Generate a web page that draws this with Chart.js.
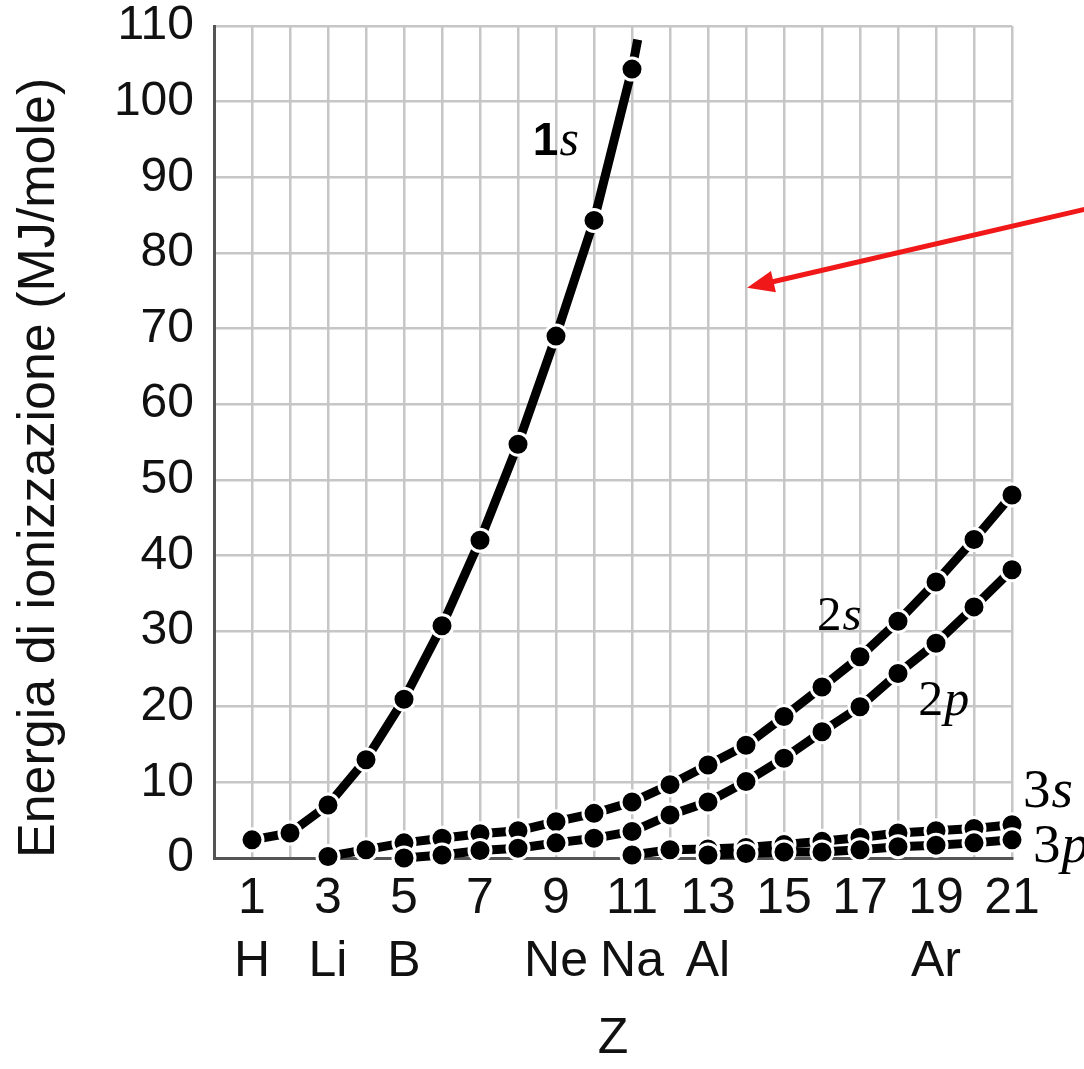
<!DOCTYPE html>
<html>
<head>
<meta charset="utf-8">
<script src="https://cdn.jsdelivr.net/npm/chart.js@4.4.0/dist/chart.umd.min.js"></script>
<style>
  html, body { margin: 0; padding: 0; background: #fff; }
  #wrap { width: 1084px; height: 1069px; position: relative; }
</style>
</head>
<body>
<div id="wrap"><canvas id="chart"></canvas></div>
<script>
/* ---- Data (MJ/mole) ------------------------------------------------------ */

const z1s = [1, 2, 3, 4, 5, 6, 7, 8, 9, 10, 11];
const e1s = [2.4, 3.3, 7.0, 13.0, 21.0, 30.7, 42.0, 54.7, 69.0, 84.3, 104.3];
// the 1s curve keeps going past Na up to the top of the grid
const z1sTail = 11.15;
const e1sTail = 108.2;

const z2s = [3, 4, 5, 6, 7, 8, 9, 10, 11, 12, 13, 14, 15, 16, 17, 18, 19, 20, 21];
const e2s = [0.2, 1.1, 2.0, 2.6, 3.2, 3.6, 4.8, 5.9, 7.4, 9.7, 12.3, 14.9, 18.7, 22.6, 26.6, 31.3, 36.5, 42.1, 48.0];

const z2p = [5, 6, 7, 8, 9, 10, 11, 12, 13, 14, 15, 16, 17, 18, 19, 20, 21];
const e2p = [0.0, 0.4, 1.0, 1.3, 2.0, 2.6, 3.5, 5.7, 7.4, 10.1, 13.2, 16.7, 20.0, 24.4, 28.4, 33.2, 38.1];

const z3s = [11, 12, 13, 14, 15, 16, 17, 18, 19, 20, 21];
const e3s = [0.4, 1.1, 1.2, 1.4, 1.8, 2.2, 2.7, 3.3, 3.6, 3.9, 4.4];

const z3p = [13, 14, 15, 16, 17, 18, 19, 20, 21];
const e3p = [0.4, 0.6, 0.8, 0.8, 1.1, 1.5, 1.7, 2.0, 2.4];

// x tick labels: atomic number on odd Z, element symbol underneath
const tickZ = [1, 3, 5, 7, 9, 11, 13, 15, 17, 19, 21];
const tickSymbol = ["H", "Li", "B", "", "Ne", "Na", "Al", "", "", "Ar", ""];

const yTitle = "Energia di ionizzazione (MJ/mole)";
const xTitle = "Z";

/* ---- Annotations ---------------------------------------------------------- */

const SANS = '"Liberation Sans", Arial, Helvetica, sans-serif';
const SERIF = '"Liberation Serif", "Times New Roman", serif';

const seriesLabels = [
  { num: "1", letter: "s", z: 8.39, e: 93.0, numFont: `bold 46px ${SANS}`, letterFont: `italic 50px ${SERIF}` },
  { num: "2", letter: "s", z: 15.87, e: 30.2, numFont: `49px ${SERIF}`, letterFont: `italic 49px ${SERIF}` },
  { num: "2", letter: "p", z: 18.53, e: 18.9, numFont: `50px ${SERIF}`, letterFont: `italic 50px ${SERIF}` },
  { num: "3", letter: "s", z: 21.29, e: 6.7, numFont: `55px ${SERIF}`, letterFont: `italic 55px ${SERIF}` },
  { num: "3", letter: "p", z: 21.55, e: -0.5, numFont: `55px ${SERIF}`, letterFont: `italic 55px ${SERIF}` },
];

const arrow = { fromZ: 23.2, fromE: 86.1, toZ: 14.03, toE: 75.4, color: "#f01818" };

/* ---- Helpers -------------------------------------------------------------- */

function points(zs, es) {
  return zs.map((z, i) => ({ x: z, y: es[i] }));
}

function series(label, data, order, hideFrom) {
  return {
    label,
    data,
    order,
    borderColor: "#000",
    borderWidth: 9,
    pointBackgroundColor: "#000",
    pointBorderColor: "#fff",
    pointBorderWidth: 3,
    pointRadius: (ctx) => (hideFrom != null && ctx.dataIndex >= hideFrom ? 0 : 11),
    tension: 0,
    clip: false,
  };
}

const labelPlugin = {
  id: "seriesLabels",
  afterDraw(chart) {
    const { ctx, scales } = chart;
    ctx.save();
    ctx.fillStyle = "#000";
    ctx.textBaseline = "alphabetic";
    ctx.textAlign = "left";
    seriesLabels.forEach((l) => {
      const x = scales.x.getPixelForValue(l.z);
      const y = scales.y.getPixelForValue(l.e);
      ctx.font = l.numFont;
      ctx.fillText(l.num, x, y);
      const w = ctx.measureText(l.num).width;
      ctx.font = l.letterFont;
      ctx.fillText(l.letter, x + w + 1, y);
    });
    ctx.restore();
  },
};

const arrowPlugin = {
  id: "redArrow",
  afterDraw(chart) {
    const { ctx, scales } = chart;
    const x1 = scales.x.getPixelForValue(arrow.fromZ);
    const y1 = scales.y.getPixelForValue(arrow.fromE);
    const x2 = scales.x.getPixelForValue(arrow.toZ);
    const y2 = scales.y.getPixelForValue(arrow.toE);
    const ang = Math.atan2(y2 - y1, x2 - x1);
    const headLen = 27;
    const headHalf = 11;
    const bx = x2 - headLen * Math.cos(ang);
    const by = y2 - headLen * Math.sin(ang);
    ctx.save();
    ctx.strokeStyle = arrow.color;
    ctx.fillStyle = arrow.color;
    ctx.lineWidth = 5;
    ctx.beginPath();
    ctx.moveTo(x1, y1);
    ctx.lineTo(bx + 4 * Math.cos(ang), by + 4 * Math.sin(ang));
    ctx.stroke();
    ctx.beginPath();
    ctx.moveTo(x2, y2);
    ctx.lineTo(bx - headHalf * Math.sin(ang), by + headHalf * Math.cos(ang));
    ctx.lineTo(bx + headHalf * Math.sin(ang), by - headHalf * Math.cos(ang));
    ctx.closePath();
    ctx.fill();
    ctx.restore();
  },
};

/* ---- Chart ---------------------------------------------------------------- */

const gridColor = "#c6c6c6";
const axisColor = "#555";

new Chart(document.getElementById("chart").getContext("2d"), {
  type: "line",
  data: {
    datasets: [
      series("1s", points(z1s, e1s).concat([{ x: z1sTail, y: e1sTail }]), 5, z1s.length),
      series("2s", points(z2s, e2s), 4),
      series("2p", points(z2p, e2p), 3),
      series("3s", points(z3s, e3s), 2),
      series("3p", points(z3p, e3p), 1),
    ],
  },
  options: {
    responsive: true,
    maintainAspectRatio: false,
    animation: false,
    layout: { autoPadding: false, padding: { top: 0, right: 72, bottom: 0, left: 0 } },
    plugins: {
      legend: { display: false },
      tooltip: { enabled: false },
    },
    scales: {
      x: {
        type: "linear",
        min: 0,
        max: 21,
        afterFit: (s) => { s.height = 211; },
        grid: { color: gridColor, lineWidth: 2.5, drawTicks: false },
        border: { color: axisColor, width: 3 },
        ticks: {
          stepSize: 1,
          autoSkip: false,
          maxRotation: 0,
          padding: 10,
          color: "#111",
          font: { family: SANS, size: 50, lineHeight: 1.26 },
          callback: (v) => {
            const i = tickZ.indexOf(v);
            if (i < 0) return "";
            return tickSymbol[i] ? [String(v), tickSymbol[i]] : String(v);
          },
        },
        title: {
          display: true,
          text: xTitle,
          color: "#111",
          font: { family: SANS, size: 50, lineHeight: 1.2 },
          padding: { top: 0, bottom: 0 },
        },
      },
      y: {
        min: 0,
        max: 110,
        afterFit: (s) => { s.width = 214; },
        grid: { color: gridColor, lineWidth: 2.5, drawTicks: false },
        border: { color: axisColor, width: 3 },
        ticks: {
          stepSize: 10,
          padding: 20,
          color: "#111",
          // small line height only trims the space reserved above the top label
          font: { family: SANS, size: 48, lineHeight: 0.25 },
        },
        title: {
          display: true,
          text: yTitle,
          align: "start",
          color: "#111",
          font: { family: SANS, size: 52, lineHeight: 1.2 },
          padding: { top: 8, bottom: 0 },
        },
      },
    },
  },
  plugins: [labelPlugin, arrowPlugin],
});
</script>
</body>
</html>
